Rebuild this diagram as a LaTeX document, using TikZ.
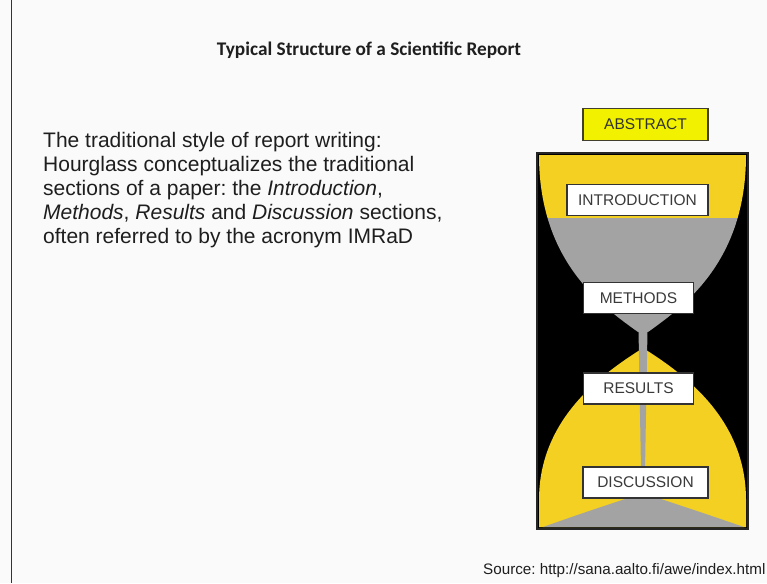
\documentclass[tikz,border=0pt]{standalone}
\usepackage{fontspec}
\setmainfont{Liberation Sans}
\newfontfamily\calibri{Carlito}
\frenchspacing
\definecolor{bg}{HTML}{FAFAFA}
\definecolor{hgyellow}{HTML}{F3D022}
\definecolor{hggray}{HTML}{A3A3A3}
\definecolor{absyellow}{HTML}{F2F200}
\definecolor{boxtext}{HTML}{3A3A3A}
\definecolor{bodytext}{HTML}{1E1E1E}
\tikzset{
  secbox/.style={draw=black!80, line width=1.4pt, fill=white, inner sep=0pt,
    minimum height=31pt, text=boxtext, font=\fontsize{15.5}{18}\selectfont},
  bodyline/.style={anchor=base west, inner sep=0pt, text=bodytext,
    font=\fontsize{21}{24}\selectfont}
}
\begin{document}
\begin{tikzpicture}[x=1pt,y=-1pt]
\useasboundingbox (0,0) rectangle (767,583);
\fill[bg] (0,0) rectangle (767,583);
% left rule
\coordinate (rt) at (11.5,0);
\coordinate (rb) at (11.5,583);
\draw[black!80, line width=1.5pt] (rt) -- (rb);
% title
\node[anchor=base, inner sep=0pt, text=black!88, font=\calibri\bfseries\fontsize{19.3}{22}\selectfont] (title) at (369,56) {Typical Structure of a Scientific Report};
% body text
\node[bodyline] (l1) at (43,147) {The traditional style of report writing:};
\node[bodyline] (l2) at (43,171) {Hourglass conceptualizes the traditional};
\node[bodyline] (l3) at (43,195) {sections of a paper: the \textit{Introduction},};
\node[bodyline] (l4) at (43,219) {\textit{Methods}, \textit{Results} and \textit{Discussion} sections,};
\node[bodyline] (l5) at (43,243) {often referred to by the acronym IMRaD};
% source
\node[anchor=base west, inner sep=0pt, text=bodytext, font=\fontsize{15.2}{18}\selectfont] (src) at (483,574) {Source: http://sana.aalto.fi/awe/index.html};
% hourglass frame
\fill[black] (537,153) rectangle (748,529);
% upper bulb
\begin{scope}
  \clip (539,155) -- (746,155) .. controls (746,260) and (686,305) .. (648,332)
        -- (638,332) .. controls (600,305) and (539,260) .. (539,155) -- cycle;
  \fill[hgyellow] (539,155) rectangle (746,218);
  \fill[hggray] (539,218) rectangle (746,335);
\end{scope}
% lower bulb
\fill[hgyellow] (643,348) .. controls (600,375) and (539,420) .. (539,500)
   -- (539,527) -- (746,527) -- (746,500) .. controls (746,420) and (686,375) .. (643,348) -- cycle;
% sand mound
\fill[hggray] (543,527) .. controls (580,514) .. (643,493) .. controls (706,514) .. (744,527) -- cycle;
% falling stream
\fill[hggray] (638.5,330) -- (647.5,330) -- (645,470) -- (641,470) -- cycle;
\draw[black!85, line width=1.2pt] (537,153) rectangle (748,529);
% boxes
\node[draw=black!70!olive, line width=1.2pt, fill=absyellow, inner sep=0pt,
      minimum width=125pt, minimum height=32pt, text=black!80,
      font=\fontsize{15.5}{18}\selectfont] (abstract) at (645.5,124.5) {ABSTRACT};
\node[secbox, minimum width=141pt] (intro) at (637.5,200) {INTRODUCTION};
\node[secbox, minimum width=110pt] (methods) at (638.5,298) {METHODS};
\node[secbox, minimum width=110pt] (results) at (638.5,388.5) {RESULTS};
\node[secbox, minimum width=125pt] (discussion) at (645.5,482.5) {DISCUSSION};
\end{tikzpicture}
\end{document}
